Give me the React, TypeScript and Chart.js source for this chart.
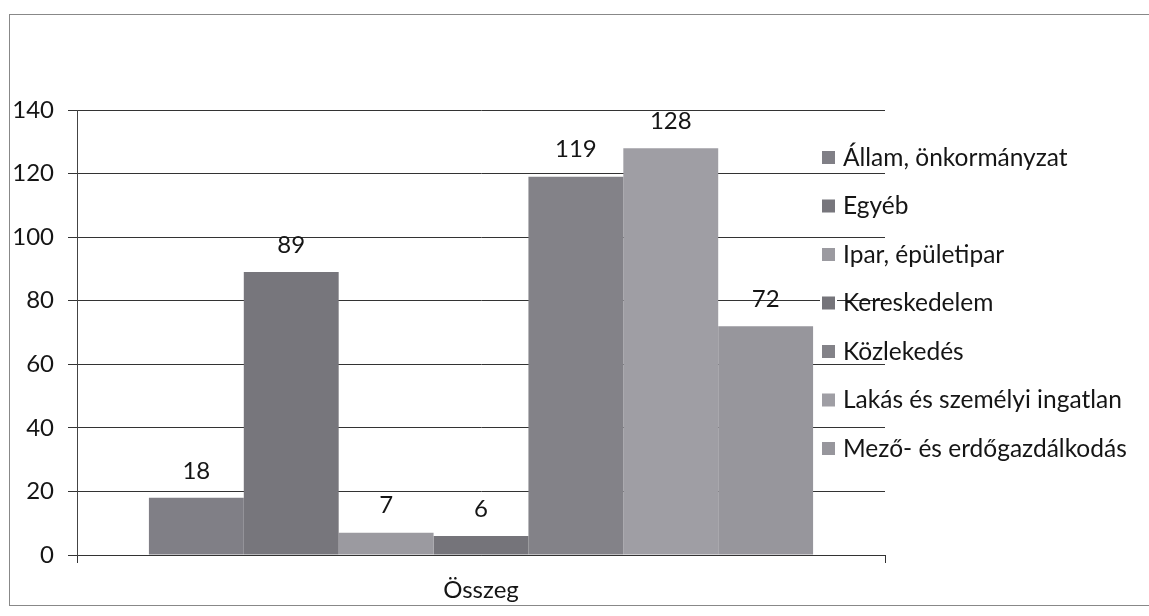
import React, { useEffect, useRef } from "react";
import { Chart, registerables } from "chart.js";

Chart.register(...registerables);

const categories = ["Összeg"];
const seriesNames = [
  "Állam, önkormányzat",
  "Egyéb",
  "Ipar, épületipar",
  "Kereskedelem",
  "Közlekedés",
  "Lakás és személyi ingatlan",
  "Mező- és erdőgazdálkodás",
];
const seriesValues = [18, 89, 7, 6, 119, 128, 72];
const seriesColors = ["#807f86", "#77767c", "#9b9aa0", "#75747a", "#838288", "#9f9ea4", "#97969c"];
const yTicks = [0, 20, 40, 60, 80, 100, 120, 140];

const FONT = "Lato, 'Open Sans', sans-serif";

const valueLabels = {
  id: "valueLabels",
  afterDatasetsDraw(chart: any) {
    const ctx = chart.ctx;
    ctx.save();
    ctx.font = `24px ${FONT}`;
    ctx.fillStyle = "#151515";
    ctx.textAlign = "center";
    ctx.textBaseline = "middle";
    chart.data.datasets.forEach((ds: any, i: number) => {
      const meta = chart.getDatasetMeta(i);
      meta.data.forEach((bar: any, j: number) => {
        ctx.fillText(String(ds.data[j]), bar.x, bar.y - 27);
      });
    });
    ctx.restore();
  },
};

const sideLegend = {
  id: "sideLegend",
  afterDraw(chart: any) {
    const ctx = chart.ctx;
    ctx.save();
    ctx.font = `24.5px ${FONT}`;
    ctx.textAlign = "left";
    ctx.textBaseline = "middle";
    const x0 = 822;
    const y0 = 157;
    const step = 48.5;
    chart.data.datasets.forEach((ds: any, i: number) => {
      const y = y0 + i * step;
      ctx.fillStyle = "#ffffff";
      ctx.fillRect(x0 - 2, y - 9, 17, 18);
      ctx.fillStyle = ds.backgroundColor;
      ctx.fillRect(x0, y - 6, 13, 13);
      ctx.fillStyle = "#151515";
      ctx.fillText(ds.label, x0 + 21, y + 1);
    });
    ctx.restore();
  },
};

export default function App() {
  const ref = useRef<HTMLCanvasElement | null>(null);
  useEffect(() => {
    if (!ref.current) return;
    const chart = new Chart(ref.current, {
      type: "bar",
      data: {
        labels: categories,
        datasets: seriesNames.map((name, i) => ({
          label: name,
          data: [seriesValues[i]],
          backgroundColor: seriesColors[i],
          borderWidth: 0,
          barPercentage: 1,
          categoryPercentage: 0.822,
        })),
      },
      options: {
        animation: false,
        responsive: false,
        devicePixelRatio: 1,
        layout: { padding: { left: 0, top: 110, right: 264, bottom: 0 } },
        plugins: {
          legend: { display: false },
          tooltip: { enabled: false },
        },
        scales: {
          x: {
            afterFit: (axis: any) => {
              axis.height = 61;
            },
            grid: {
              display: true,
              drawOnChartArea: false,
              drawTicks: true,
              tickLength: 8,
              color: "#333",
            },
            border: { display: true, color: "#333", width: 1 },
            ticks: {
              font: { family: FONT, size: 24 },
              color: "#151515",
              padding: 13,
            },
          },
          y: {
            min: 0,
            max: 140,
            afterFit: (axis: any) => {
              axis.width = 77;
            },
            afterBuildTicks: (axis: any) => {
              axis.ticks = yTicks.map((v) => ({ value: v }));
            },
            grid: {
              color: "#333",
              lineWidth: 1,
              tickLength: 9,
              drawTicks: true,
            },
            border: { display: true, color: "#444", width: 1 },
            ticks: {
              font: { family: FONT, size: 24 },
              color: "#151515",
              padding: 14,
            },
          },
        },
      },
      plugins: [valueLabels, sideLegend],
    });
    return () => chart.destroy();
  }, []);

  return (
    <div style={{ position: "fixed", left: 0, top: 0, width: 1149, height: 616, background: "#fff", overflow: "hidden" }}>
      <canvas ref={ref} width={1149} height={616} style={{ position: "absolute", left: 0, top: 0 }} />
      <div
        style={{
          position: "absolute",
          left: 9,
          top: 14,
          width: 1170,
          height: 590,
          border: "1.5px solid #888",
          pointerEvents: "none",
        }}
      />
    </div>
  );
}
